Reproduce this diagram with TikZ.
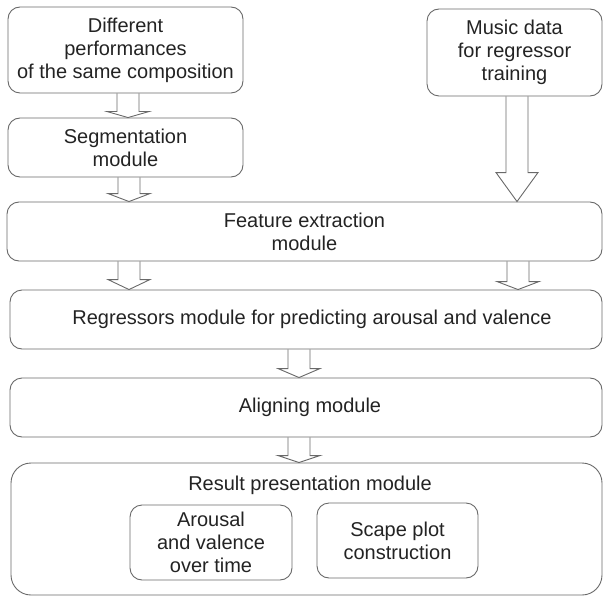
\documentclass[tikz,border=0pt]{standalone}
\usepackage{fontspec}
\setmainfont{Liberation Sans}
\usetikzlibrary{calc}

\definecolor{linegray}{RGB}{105,105,105}
\definecolor{textgray}{RGB}{35,35,35}

% hollow block arrow: [head length]{x}{from node}{to node}
\newcommand{\blockarrow}[4][8]{%
  \coordinate (ba-s) at (#2,0 |- #3);
  \coordinate (ba-t) at (#2,0 |- #4);
  \draw[arrowline] ($(ba-s)+(-11,0)$) -- ($(ba-t)+(-11,-#1)$) -- ($(ba-t)+(-21,-#1)$)
    -- (ba-t) -- ($(ba-t)+(21,-#1)$) -- ($(ba-t)+(11,-#1)$) -- ($(ba-s)+(11,0)$);}

\begin{document}
\begin{tikzpicture}[x=1pt, y=-1pt,
    module/.style={draw=linegray, line width=0.9pt, rounded corners=12pt, align=center,
      text=textgray, font=\fontsize{20}{23}\selectfont, inner sep=0pt},
    arrowline/.style={draw=linegray, line width=0.9pt, line join=miter}]
  \useasboundingbox (0,0) rectangle (604,596);

  \node[module, minimum width=235pt, minimum height=86pt] (perf) at (125.5,50) {Different\\performances\\of the same composition};
  \node[module, minimum width=175pt, minimum height=87pt] (music) at (514.5,52.5) {Music data\\for regressor\\training};
  \node[module, minimum width=235pt, minimum height=59pt] (seg) at (125.5,147.5) {Segmentation\\module};
  \node[module, minimum width=595pt, minimum height=59pt] (feat) at (304.5,231.5) {Feature extraction\\module};
  \node[module, minimum width=592pt, minimum height=59pt] (reg) at (306,319.5) {\hspace*{12pt}Regressors module for predicting arousal and valence};
  \node[module, minimum width=592pt, minimum height=59pt] (align) at (306,407.5) {\hspace*{8pt}Aligning module};
  \node[module, rounded corners=20pt, minimum width=591pt, minimum height=132pt] (result) at (306.5,529) {};
  \node[text=textgray, font=\fontsize{20}{23}\selectfont] (restitle) at (310,485) {Result presentation module};
  \node[module, minimum width=162pt, minimum height=75pt] (arousal) at (211,542.5) {Arousal\\and valence\\over time};
  \node[module, minimum width=161pt, minimum height=75pt] (scape) at (397.5,540.5) {Scape plot\\construction};

  \blockarrow[6]{128}{perf.south}{seg.north}
  \blockarrow{129}{seg.south}{feat.north}
  \blockarrow[29]{517}{music.south}{feat.north}
  \blockarrow[10]{129}{feat.south}{reg.north}
  \blockarrow{518}{feat.south}{reg.north}
  \blockarrow[9]{299}{reg.south}{align.north}
  \blockarrow[7]{299}{align.south}{result.north}
\end{tikzpicture}
\end{document}
